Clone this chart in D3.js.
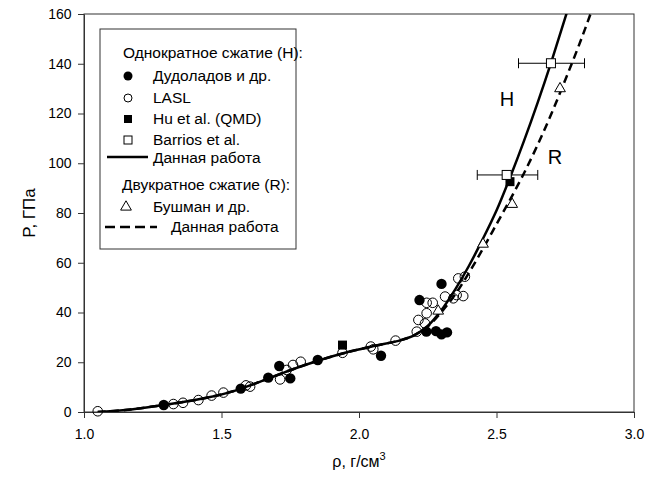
<!DOCTYPE html>
<html><head><meta charset="utf-8">
<script src="https://cdn.jsdelivr.net/npm/d3@7"></script>
<style>body{margin:0;background:#fff} text{font-family:Arial,"Liberation Sans",sans-serif;fill:#000}</style>
</head><body><svg id="c" width="659" height="482"></svg>
<script>
// ---- data ----
const xTicks = [1.0, 1.5, 2.0, 2.5, 3.0];
const yTicks = [0, 20, 40, 60, 80, 100, 120, 140, 160];
const dudoladov = [[1.29,2.8],[1.57,9.4],[1.67,13.8],[1.71,18.5],[1.75,13.5],[1.85,20.9],[2.08,22.6],[2.22,45],[2.30,51.5],[2.245,32.3],[2.28,32.5],[2.30,31.2],[2.32,32]];
const lasl = [[1.05,0.3],[1.325,3.2],[1.36,3.7],[1.416,4.8],[1.464,6.6],[1.507,7.8],[1.589,10.7],[1.604,10.2],[1.713,13.1],[1.737,16.9],[1.76,18.9],[1.788,20.2],[1.94,23.8],[2.043,26.3],[2.052,25.2],[2.133,28.7],[2.21,32.3],[2.216,37],[2.24,35.6],[2.246,39.7],[2.246,43.9],[2.268,43.9],[2.313,46.4],[2.343,45.7],[2.355,47],[2.379,46.6],[2.361,53.7],[2.385,54.4]];
const hu = [[1.94,26.9],[2.549,92.6]];
const barrios = [[2.698,140.2],[2.537,95.3]];
const barriosErr = [[2.58,2.82],[2.43,2.65]];
const bushman = [[2.288,41],[2.451,67.9],[2.557,83.9],[2.731,130.4]];
const curveH = [[1.05,0],[1.15,0.8],[1.25,2.2],[1.35,3.8],[1.45,5.8],[1.55,8.6],[1.65,12.6],[1.75,16.8],[1.85,20.6],[1.95,23.8],[2.05,26.4],[2.15,28.8],[2.2,30.8],[2.25,34.6],[2.3,41],[2.35,49.3],[2.4,58.8],[2.45,69.5],[2.5,81],[2.55,94.5],[2.6,109],[2.65,124.5],[2.7,141],[2.75,158.5],[2.8,177]];
const curveR = [[1.05,0],[1.15,0.8],[1.25,2.2],[1.35,3.8],[1.45,5.8],[1.55,8.6],[1.65,12.6],[1.75,16.8],[1.85,20.6],[1.95,23.8],[2.05,26.4],[2.15,28.8],[2.2,30.8],[2.25,34.4],[2.3,40.2],[2.35,47.3],[2.4,56],[2.45,65.5],[2.5,75.5],[2.55,85.5],[2.6,96],[2.65,107.5],[2.7,120],[2.75,133.5],[2.8,147.5],[2.85,162.5],[2.9,178]];
const legendHeader1 = "Однократное сжатие (H):";
const legendHeader2 = "Двукратное сжатие (R):";
const legendLabels = ["Дудоладов и др.","LASL","Hu et al. (QMD)","Barrios et al.","Данная работа","Бушман и др.","Данная работа"];

// ---- layout ----
const svg = d3.select("#c");
const L=84, R=634, T=14, B=412;
const x = d3.scaleLinear().domain([1,3]).range([L,R]);
const y = d3.scaleLinear().domain([0,160]).range([B,T]);
const axisCol="#333";

const defs = svg.append("defs");
defs.append("clipPath").attr("id","clip").append("rect").attr("x",L).attr("y",T).attr("width",R-L).attr("height",B-T);

// frame
svg.append("rect").attr("x",L).attr("y",T).attr("width",R-L).attr("height",B-T).attr("fill","none").attr("stroke",axisCol).attr("stroke-width",1);

const xa = svg.append("g").attr("transform",`translate(0,${B})`).call(d3.axisBottom(x).tickValues(xTicks).tickFormat(d3.format(".1f")).tickSize(6).tickSizeOuter(0));
const ya = svg.append("g").attr("transform",`translate(${L},0)`).call(d3.axisLeft(y).tickValues(yTicks).tickFormat(d3.format("d")).tickSize(6).tickSizeOuter(0));
[xa,ya].forEach(g=>{g.select(".domain").attr("stroke",axisCol);g.selectAll(".tick line").attr("stroke",axisCol);g.selectAll("text").style("font-size","14px").attr("fill","#000");});
xa.selectAll("text").attr("dy","1.25em");
ya.selectAll("text").attr("dx","-0.25em");

// axis titles
svg.append("text").attr("transform",`translate(35,${(T+B)/2}) rotate(-90)`).attr("text-anchor","middle").style("font-size","17px").text("P, ГПа");
const xt = svg.append("text").attr("x",(L+R)/2).attr("y",467).attr("text-anchor","middle").style("font-size","16px");
xt.append("tspan").text("ρ, г/см");
xt.append("tspan").attr("dy","-7").style("font-size","11px").text("3");

// curves
const line = d3.line().x(d=>x(d[0])).y(d=>y(d[1])).curve(d3.curveCatmullRom);
const cg = svg.append("g").attr("clip-path","url(#clip)");
cg.append("path").attr("d",line(curveH)).attr("fill","none").attr("stroke","#000").attr("stroke-width",2.5);
cg.append("path").attr("d",line(curveR)).attr("fill","none").attr("stroke","#000").attr("stroke-width",2.5).attr("stroke-dasharray","8,5");

// error bars
const eg = svg.append("g").attr("stroke","#000").attr("stroke-width",1);
barrios.forEach((d,i)=>{
  const e=barriosErr[i], yy=y(d[1]);
  eg.append("line").attr("x1",x(e[0])).attr("x2",x(e[1])).attr("y1",yy).attr("y2",yy);
  eg.append("line").attr("x1",x(e[0])).attr("x2",x(e[0])).attr("y1",yy-5).attr("y2",yy+5);
  eg.append("line").attr("x1",x(e[1])).attr("x2",x(e[1])).attr("y1",yy-5).attr("y2",yy+5);
});

// markers
const mg = svg.append("g");
const tri = d3.symbol().type(d3.symbolTriangle).size(50);
mg.selectAll(".lasl").data(lasl).join("circle").attr("cx",d=>x(d[0])).attr("cy",d=>y(d[1])).attr("r",4.8).attr("fill","none").attr("stroke","#000").attr("stroke-width",1);
mg.selectAll(".dud").data(dudoladov).join("circle").attr("cx",d=>x(d[0])).attr("cy",d=>y(d[1])).attr("r",5.2).attr("fill","#000");
mg.selectAll(".hu").data(hu).join("rect").attr("x",d=>x(d[0])-4.5).attr("y",d=>y(d[1])-4.5).attr("width",9).attr("height",9).attr("fill","#000");
mg.selectAll(".bar").data(barrios).join("rect").attr("x",d=>x(d[0])-4.5).attr("y",d=>y(d[1])-4.5).attr("width",9).attr("height",9).attr("fill","#fff").attr("stroke","#000").attr("stroke-width",1);
mg.selectAll(".bus").data(bushman).join("path").attr("d",tri).attr("transform",d=>`translate(${x(d[0])},${y(d[1])+1})`).attr("fill","#fff").attr("stroke","#000").attr("stroke-width",1);

// curve labels
svg.append("text").attr("x",507).attr("y",106).attr("text-anchor","middle").style("font-size","20px").text("H");
svg.append("text").attr("x",555).attr("y",164).attr("text-anchor","middle").style("font-size","20px").text("R");

// legend
const lg = svg.append("g");
lg.append("rect").attr("x",100).attr("y",29).attr("width",196).attr("height",220).attr("fill","#fff").attr("stroke",axisCol).attr("stroke-width",1);
const fs="15.5px";
lg.append("text").attr("x",123).attr("y",58).style("font-size",fs).text(legendHeader1);
const rows=[81,103,124,145,163];
const mx=128, tx=153;
lg.append("circle").attr("cx",mx).attr("cy",rows[0]-5).attr("r",4.5).attr("fill","#000");
lg.append("circle").attr("cx",mx).attr("cy",rows[1]-5).attr("r",4).attr("fill","none").attr("stroke","#000");
lg.append("rect").attr("x",mx-4).attr("y",rows[2]-9).attr("width",8).attr("height",8).attr("fill","#000");
lg.append("rect").attr("x",mx-4).attr("y",rows[3]-9).attr("width",8).attr("height",8).attr("fill","none").attr("stroke","#000");
lg.append("line").attr("x1",107).attr("x2",148).attr("y1",rows[4]-6).attr("y2",rows[4]-6).attr("stroke","#000").attr("stroke-width",2.5);
for(let i=0;i<5;i++) lg.append("text").attr("x",tx).attr("y",rows[i]).style("font-size",fs).text(legendLabels[i]);
lg.append("text").attr("x",122).attr("y",190).style("font-size",fs).text(legendHeader2);
lg.append("path").attr("d",tri).attr("transform",`translate(126,${207})`).attr("fill","none").attr("stroke","#000");
lg.append("text").attr("x",tx).attr("y",212).style("font-size",fs).text(legendLabels[5]);
lg.append("line").attr("x1",105).attr("x2",157).attr("y1",227).attr("y2",227).attr("stroke","#000").attr("stroke-width",2.5).attr("stroke-dasharray","10,5");
lg.append("text").attr("x",171).attr("y",232).style("font-size",fs).text(legendLabels[6]);
</script></body></html>
